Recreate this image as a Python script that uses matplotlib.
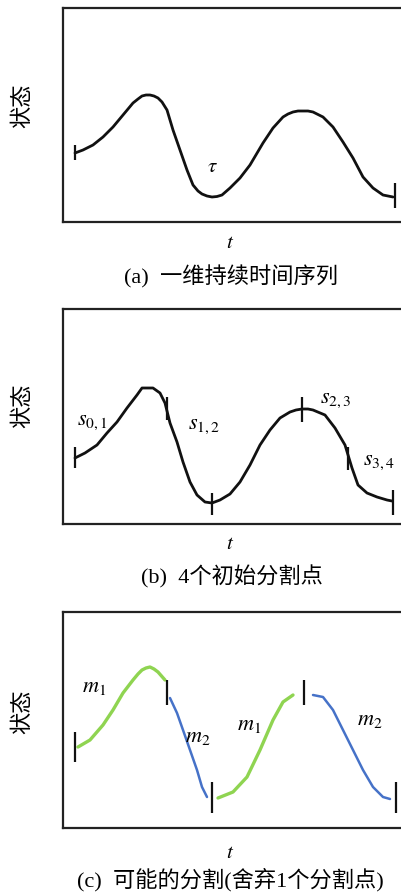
import matplotlib
matplotlib.use("Agg")
import matplotlib.pyplot as plt

plt.rcParams['mathtext.fontset'] = 'stix'
CJK = ['Liberation Serif', 'Noto Sans CJK SC']

# ---- data (t: time units, s: state units) ----
t_a = [12, 20, 30, 40, 50, 60, 70, 75, 79, 83, 87, 91, 95, 99, 104, 110, 117, 124, 130, 135, 139, 144,
       149, 154, 159, 167, 177, 187, 200, 210, 220, 225, 230, 235, 240, 245, 250, 260, 270, 280, 290,
       300, 310, 320, 330]
s_a = [69, 72, 77, 85, 95, 107, 119, 123, 126, 127, 127, 126, 124, 120, 112, 92, 72, 52, 37, 31, 28, 26,
       25, 25.5, 27, 34, 44, 57, 79, 94, 105, 108, 110, 111, 111, 111, 110, 105, 95, 80, 64,
       45, 34, 27, 25]
ticks_a_t = [12, 332]
ticks_a_lo = [62, 14]
ticks_a_hi = [77, 39]

t_b = [12, 22, 34, 44, 54, 64, 74, 79, 90, 97, 102, 107, 114, 120, 127, 134, 142, 149, 157, 167,
       177, 187, 197, 207, 217, 227, 233, 239, 245, 250, 262, 272, 282, 289, 295, 304, 314, 324, 329]
s_b = [66, 71, 79, 91, 102, 116, 129, 136, 136, 131, 121, 101, 82, 62, 42, 29, 22, 21, 24, 30,
       42, 59, 79, 94, 106, 112, 114, 115, 115, 114, 109, 96, 79, 56, 39, 31, 27, 24, 23]
ticks_b_t = [12, 104, 149, 239, 285, 330]
ticks_b_lo = [56, 104, 9, 102, 54, 9]
ticks_b_hi = [77, 127, 31, 127, 77, 34]
labels_b = [r'$s_{0,1}$', r'$s_{1,2}$', r'$s_{2,3}$', r'$s_{3,4}$']
labels_b_t = [14, 125, 257, 300]
labels_b_s = [102, 98, 124, 62]

t_c_g1 = [15, 27, 40, 50, 60, 70, 75, 79, 83, 87, 91, 95, 102]
s_c_g1 = [81, 88, 103, 118, 135, 148, 154, 158, 160, 161, 159, 156, 148]
t_c_b1 = [107, 114, 120, 127, 134, 139, 144]
s_c_b1 = [130, 115, 98, 78, 58, 41, 31]
t_c_g2 = [155, 170, 184, 197, 210, 220, 230]
s_c_g2 = [30, 36, 51, 78, 108, 126, 133]
t_c_b2 = [250, 260, 270, 280, 290, 300, 310, 320, 327]
s_c_b2 = [133, 131, 118, 98, 78, 58, 41, 31, 29]
ticks_c_t = [12, 104, 149, 241, 333]
ticks_c_lo = [66, 123, 15, 123, 15]
ticks_c_hi = [96, 148, 46, 148, 46]
labels_c = [r'$m_1$', r'$m_2$', r'$m_1$', r'$m_2$']
labels_c_t = [19, 122, 174, 294]
labels_c_s = [141, 91, 103, 108]

captions = ['(a)  一维持续时间序列', '(b)  4个初始分割点', '(c)  可能的分割(舍弃1个分割点)']
ylabel = '状态'

W, H = 402, 896
fig = plt.figure(figsize=(W / 100, H / 100), dpi=100)

def make_ax(top_px, bot_px):
    ax = fig.add_axes([63 / W, 1 - bot_px / H, 342 / W, (bot_px - top_px) / H])
    ax.set_xlim(0, 342)
    ax.set_ylim(0, bot_px - top_px)
    ax.set_xticks([])
    ax.set_yticks([])
    for sp in ax.spines.values():
        sp.set_linewidth(1.6)
        sp.set_color('#222222')
    return ax

LINE = dict(color='#111111', lw=2.0, solid_capstyle='round', solid_joinstyle='round')
TICK = dict(color='#111111', lw=1.6)
GREEN = '#8fd451'
BLUE = '#4672c8'

# panel a
ax = make_ax(7.5, 222)
ax.plot(t_a, s_a, **LINE)
ax.vlines(ticks_a_t, ticks_a_lo, ticks_a_hi, **TICK)
ax.text(149, 56, r'$\tau$', fontsize=15, ha='center', va='center')

# panel b
ax = make_ax(309, 524)
ax.plot(t_b, s_b, **LINE)
ax.vlines(ticks_b_t, ticks_b_lo, ticks_b_hi, **TICK)
for lab, tt, ss in zip(labels_b, labels_b_t, labels_b_s):
    ax.text(tt, ss, lab, fontsize=16, ha='left', va='center')

# panel c
ax = make_ax(612, 828)
ax.plot(t_c_g1, s_c_g1, color=GREEN, lw=2.4, solid_capstyle='round', solid_joinstyle='round')
ax.plot(t_c_b1, s_c_b1, color=BLUE, lw=1.8, solid_capstyle='round', solid_joinstyle='round')
ax.plot(t_c_g2, s_c_g2, color=GREEN, lw=2.4, solid_capstyle='round', solid_joinstyle='round')
ax.plot(t_c_b2, s_c_b2, color=BLUE, lw=1.8, solid_capstyle='round', solid_joinstyle='round')
ax.vlines(ticks_c_t, ticks_c_lo, ticks_c_hi, **TICK)
for lab, tt, ss in zip(labels_c, labels_c_t, labels_c_s):
    ax.text(tt, ss, lab, fontsize=16, ha='left', va='center')

# labels
for ty, ly in [(242, 106), (543, 406), (852, 712)]:
    fig.text(230 / W, 1 - ty / H, r'$t$', fontsize=15, ha='center', va='center')
    fig.text(22 / W, 1 - ly / H, ylabel, fontsize=16, rotation=90, ha='center', va='center',
             family=['Noto Sans CJK SC'])
for cap, cy, cx in zip(captions, [277, 577, 880], [231, 232, 230]):
    fig.text(cx / W, 1 - cy / H, cap, fontsize=16, ha='center', va='center', family=CJK)

fig.savefig('out.png', dpi=100)
